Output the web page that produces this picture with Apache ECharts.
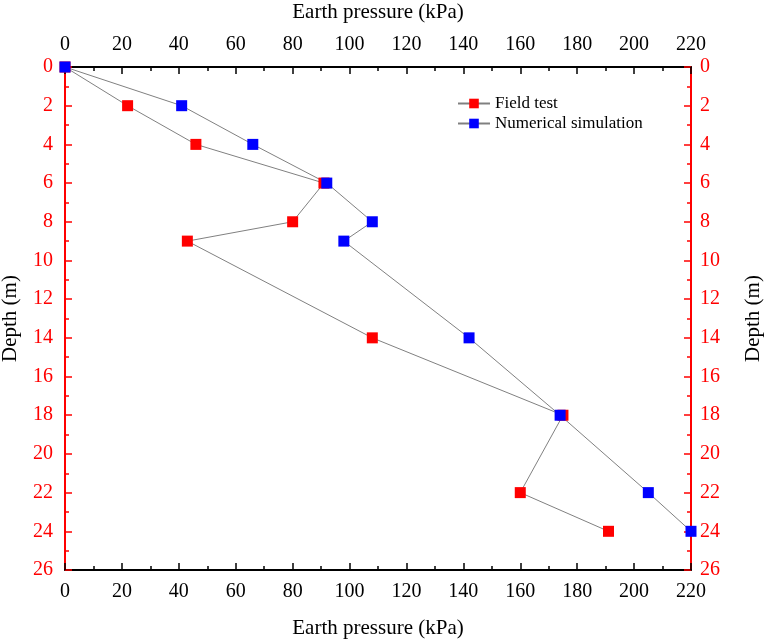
<!DOCTYPE html>
<html lang="en">
<head>
<meta charset="UTF-8">
<title>Earth pressure vs depth</title>
<style>
  html, body { margin: 0; padding: 0; background: #fff; }
  #main { width: 764px; height: 642px; }
</style>
</head>
<body>
<div id="main"></div>
<script src="https://cdn.jsdelivr.net/npm/echarts@6/dist/echarts.min.js"></script>
<script>
  // depth (m) of each measuring point
  var depths = [0, 2, 4, 6, 8, 9, 14, 18, 22, 24];
  // earth pressure (kPa)
  var fieldTest = [0, 22, 46, 91, 80, 43, 108, 175, 160, 191];
  var numericalSim = [0, 41, 66, 92, 108, 98, 142, 174, 205, 220];

  function pairs(xs) {
    var out = [];
    for (var i = 0; i < xs.length; i++) {
      out.push([xs[i], depths[i]]);
    }
    return out;
  }

  var font = '"Liberation Serif", "Times New Roman", serif';
  var red = '#ff0000';

  function xAxisCfg(pos, margin, nameGap) {
    return {
      type: 'value',
      position: pos,
      min: 0, max: 220, interval: 20,
      name: 'Earth pressure (kPa)',
      nameLocation: 'middle',
      nameGap: nameGap,
      nameTextStyle: { fontFamily: font, fontSize: 21, color: '#000' },
      axisLine: { show: true, onZero: false, lineStyle: { color: '#000', width: 2 } },
      axisTick: { show: true, inside: true, length: 7, lineStyle: { color: '#000', width: 1.5 } },
      minorTick: { show: true, splitNumber: 2, length: 4, lineStyle: { color: '#000', width: 1.5 } },
      axisLabel: { fontFamily: font, fontSize: 20, color: '#000', margin: margin },
      splitLine: { show: false }
    };
  }

  function yAxisCfg(pos, margin, nameGap) {
    return {
      type: 'value',
      position: pos,
      inverse: true,
      min: 0, max: 26, interval: 2,
      name: 'Depth (m)',
      nameLocation: 'middle',
      nameGap: nameGap,
      nameTextStyle: { fontFamily: font, fontSize: 21, color: '#000' },
      axisLine: { show: true, onZero: false, lineStyle: { color: red, width: 2 } },
      axisTick: { show: true, inside: true, length: 7, lineStyle: { color: red, width: 1.5 } },
      minorTick: { show: true, splitNumber: 2, length: 4, lineStyle: { color: red, width: 1.5 } },
      axisLabel: { fontFamily: font, fontSize: 20, color: red, margin: margin },
      splitLine: { show: false }
    };
  }

  var myChart = echarts.init(document.getElementById('main'));
  var option = {
    backgroundColor: '#fff',
    animation: false,
    grid: { left: 65, right: 73, top: 67, bottom: 72, containLabel: false, outerBoundsMode: 'none' },
    legend: {
      left: 452, top: 90,
      orient: 'vertical',
      itemGap: 3,
      itemWidth: 32, itemHeight: 12,
      textStyle: { fontFamily: font, fontSize: 17, color: '#000' },
      data: ['Field test', 'Numerical simulation']
    },
    xAxis: [xAxisCfg('bottom', 12, 48), xAxisCfg('top', 12, 44)],
    yAxis: [yAxisCfg('left', 12, 44), yAxisCfg('right', 9, 52)],
    series: [
      {
        name: 'Field test',
        type: 'line',
        data: pairs(fieldTest),
        symbol: 'rect',
        symbolSize: 11,
        clip: true,
        itemStyle: { color: red },
        lineStyle: { color: '#808080', width: 1 }
      },
      {
        name: 'Numerical simulation',
        type: 'line',
        data: pairs(numericalSim),
        symbol: 'rect',
        symbolSize: 11,
        clip: true,
        itemStyle: { color: '#0000ff' },
        lineStyle: { color: '#808080', width: 1 }
      }
    ]
  };
  myChart.setOption(option);
</script>
</body>
</html>
